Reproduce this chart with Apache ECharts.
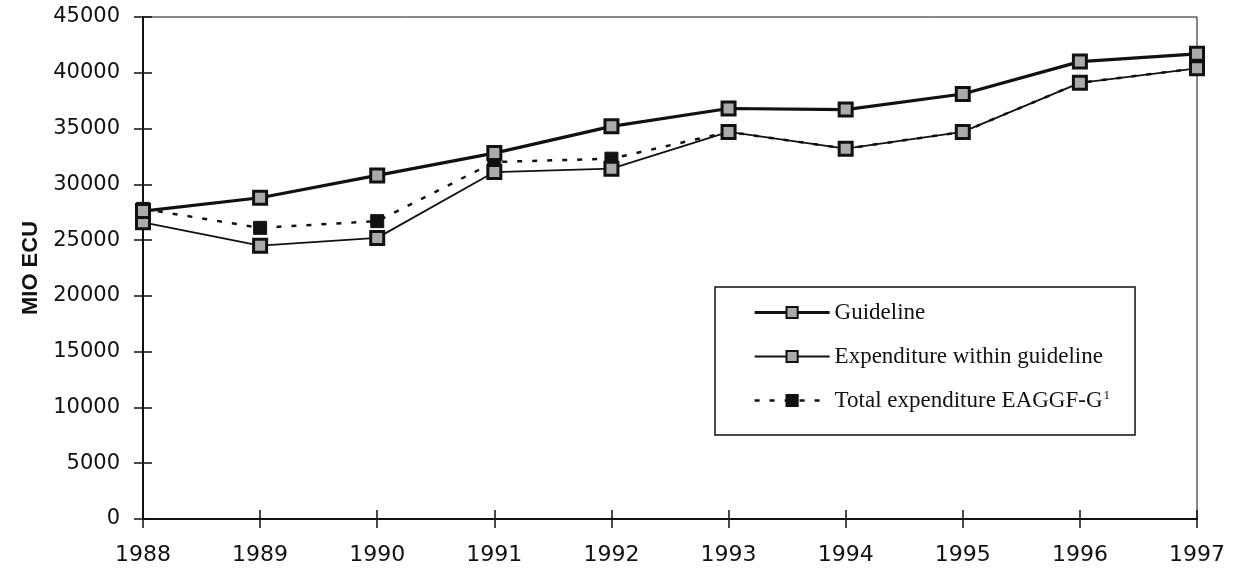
<!DOCTYPE html>
<html>
<head>
<meta charset="utf-8">
<script src="https://cdn.jsdelivr.net/npm/echarts@6/dist/echarts.min.js"></script>
<style>
  html, body { margin: 0; padding: 0; background: #fff; }
  #chart { width: 1235px; height: 571px; }
</style>
</head>
<body>
<div id="chart"></div>
<script>
// data (MIO ECU)
var years = ["1988", "1989", "1990", "1991", "1992", "1993", "1994", "1995", "1996", "1997"];
var guideline = [27600, 28800, 30800, 32800, 35200, 36800, 36700, 38100, 41000, 41700];
var expenditureWithin = [26600, 24500, 25200, 31100, 31400, 34700, 33200, 34700, 39100, 40400];
var totalExpenditure = [27800, 26100, 26700, 32000, 32300, 34700, 33200, 34700, 39100, 40400];

var ink = "#111";
var markFill = "#ababab";
var axisFont = "DejaVu Sans";

var myChart = echarts.init(document.getElementById("chart"));

myChart.setOption({
  animation: false,
  backgroundColor: "#fff",
  grid: {
    left: 143,
    right: 38,
    top: 17,
    bottom: 52,
    show: true,
    borderColor: ink,
    borderWidth: 1,
  },
  legend: {
    orient: "vertical",
    left: 715,
    top: 287,
    padding: [14, 25, 23, 38],
    itemWidth: 75,
    itemHeight: 14,
    itemGap: 21,
    borderColor: ink,
    borderWidth: 1.5,
    backgroundColor: "#fff",
    textStyle: {
      fontFamily: "Liberation Serif",
      fontSize: 23,
      color: ink,
      rich: {
        sup: { fontFamily: "Liberation Serif", fontSize: 13, color: ink, verticalAlign: "top", padding: [0, 0, 10, 1] },
      },
    },
    formatter: function (name) {
      if (name === "Total expenditure EAGGF-G") return name + "{sup|1}";
      return name;
    },
    data: [
      { name: "Guideline", lineStyle: { width: 3.2 } },
      { name: "Expenditure within guideline", lineStyle: { width: 1.8 } },
      { name: "Total expenditure EAGGF-G", lineStyle: { width: 2.5 } },
    ],
  },
  xAxis: [
    {
      type: "category",
      data: years,
      boundaryGap: false,
      axisLine: { lineStyle: { color: ink, width: 2 } },
      axisTick: { show: true, length: 9, lineStyle: { color: ink, width: 1.5 } },
      axisLabel: { fontFamily: axisFont, fontSize: 22, color: ink, margin: 25 },
    },
    {
      // inner half of the crossing ticks
      type: "category",
      data: years,
      position: "bottom",
      boundaryGap: false,
      axisLine: { show: false },
      axisTick: { show: true, inside: true, length: 9, lineStyle: { color: ink, width: 1.5 } },
      axisLabel: { show: false },
    },
  ],
  yAxis: [
    {
      type: "value",
      min: 0,
      max: 45000,
      interval: 5000,
      name: "MIO ECU",
      nameLocation: "middle",
      nameGap: 94,
      nameTextStyle: { fontFamily: "Liberation Sans", fontWeight: "bold", fontSize: 22, color: ink },
      splitLine: { show: false },
      axisLine: { show: true, lineStyle: { color: ink, width: 2 } },
      axisTick: { show: true, length: 9, lineStyle: { color: ink, width: 1.5 } },
      axisLabel: {
        fontFamily: axisFont,
        fontSize: 21,
        color: ink,
        margin: 23,
        formatter: function (v) { return String(v); },
      },
    },
    {
      // inner half of the crossing ticks
      type: "value",
      min: 0,
      max: 45000,
      interval: 5000,
      position: "left",
      splitLine: { show: false },
      axisLine: { show: true, onZero: false, lineStyle: { color: ink, width: 2 } },
      axisTick: { show: true, inside: true, length: 9, lineStyle: { color: ink, width: 1.5 } },
      axisLabel: { show: false },
    },
  ],
  series: [
    {
      name: "Total expenditure EAGGF-G",
      type: "line",
      data: totalExpenditure,
      z: 2,
      symbol: "rect",
      symbolSize: 13,
      lineStyle: { color: ink, width: 2.5, type: [5, 10] },
      itemStyle: { color: ink, borderColor: ink, borderWidth: 1 },
    },
    {
      name: "Expenditure within guideline",
      type: "line",
      data: expenditureWithin,
      z: 3,
      symbol: "rect",
      symbolSize: 13,
      lineStyle: { color: ink, width: 1.8 },
      itemStyle: { color: markFill, borderColor: ink, borderWidth: 3 },
    },
    {
      name: "Guideline",
      type: "line",
      data: guideline,
      z: 4,
      symbol: "rect",
      symbolSize: 13,
      lineStyle: { color: ink, width: 3.2 },
      itemStyle: { color: markFill, borderColor: ink, borderWidth: 3 },
    },
  ],
});
</script>
</body>
</html>
